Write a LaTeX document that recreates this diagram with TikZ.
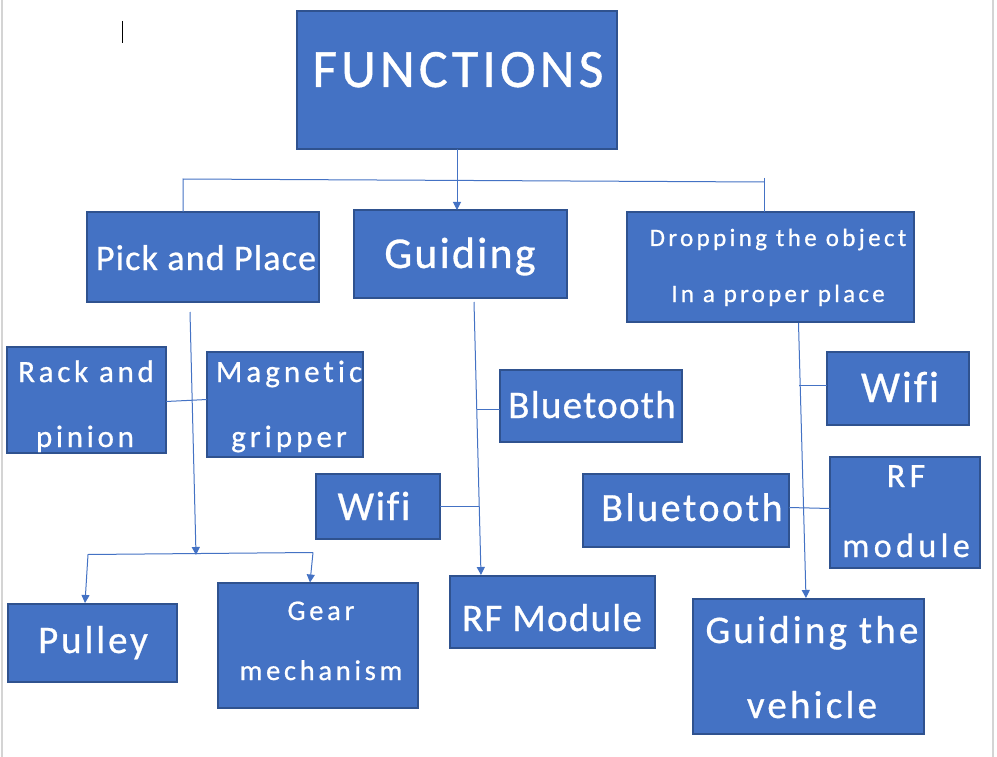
\documentclass[tikz,border=0pt]{standalone}
\usepackage{fontspec}
\setmainfont{Carlito}[Ligatures=NoCommon]
\usetikzlibrary{arrows.meta}
\definecolor{bfill}{HTML}{4472C4}
\definecolor{bline}{HTML}{2F528F}
\definecolor{pageedge}{HTML}{D4D4D4}
\newcommand\tx[2]{\fontsize{#1}{#1}\selectfont\addfontfeatures{LetterSpace=#2,FakeBold=0.7}}
\newcommand\bx[5]{\node[box, minimum width={(#4-#2)*1pt}, minimum height={(#5-#3)*1pt}] (#1) at ({(#2+#4)/2},{(#3+#5)/2}) {};}
\begin{document}
\begin{tikzpicture}[x=1pt,y=-1pt,
  box/.style={draw=bline, fill=bfill, line width=1.5pt, inner sep=0pt, outer sep=0pt},
  lbl/.style={text=white, anchor=base, inner sep=0pt},
  conn/.style={draw=bfill, line width=1pt},
  arr/.style={conn, -{Triangle[length=8pt,width=8pt]}}]
\useasboundingbox (0,0) rectangle (997,757);
\fill[white] (0,0) rectangle (997,757);
% page edges and cursor
\draw[pageedge, line width=2pt] (1.5,0) -- (1.5,757);
\draw[pageedge, line width=2pt] (992.5,0) -- (992.5,757);
\draw[black, line width=1pt] (122,21) -- (122,43);
% boxes
\bx{f}{297}{11}{617}{149}
\bx{pp}{87}{212}{319}{302}
\bx{gd}{354}{210}{567}{298}
\bx{dr}{627}{212}{914}{322}
\bx{rk}{7}{347}{166}{453}
\bx{mg}{207}{352}{363}{457}
\bx{bta}{500}{370}{682}{442}
\bx{wfa}{316}{474}{440}{539}
\bx{rfa}{450}{576}{655}{648}
\bx{pl}{8}{604}{177}{682}
\bx{gr}{218}{583}{418}{708}
\bx{wfb}{827}{352}{969}{425}
\bx{btb}{583}{474}{789}{547}
\bx{rfb}{830}{457}{980}{568}
\bx{gv}{693}{599}{924}{734}
% texts
\node[lbl] (tf) at (458,87) {\tx{54}{7.5}FUNCTIONS};
\node[lbl] (tpp) at (206,270) {\tx{36}{3.3}Pick and Place};
\node[lbl] (tgd) at (460,268) {\tx{44}{5}Guiding};
\node[lbl] (tdra) at (778,246) {\tx{25}{13.5}Dropping the object};
\node[lbl] (tdrb) at (778,302) {\tx{25}{13}In a proper place};
\node[lbl] (trka) at (86,382) {\tx{31}{12}Rack and};
\node[lbl] (trkb) at (85,447) {\tx{31}{12}pinion};
\node[lbl] (tmga) at (289,382) {\tx{31}{13}Magnetic};
\node[lbl] (tmgb) at (289,447) {\tx{31}{13}gripper};
\node[lbl] (tbta) at (592,418) {\tx{39}{3.3}Bluetooth};
\node[lbl] (twfa) at (374,520) {\tx{41}{4}Wifi};
\node[lbl] (trfa) at (552,631) {\tx{39}{3.2}RF Module};
\node[lbl] (tpl) at (93,653) {\tx{39}{7.4}Pulley};
\node[lbl] (tgra) at (321,620) {\tx{28.5}{13}Gear};
\node[lbl] (tgrb) at (321,680) {\tx{28.5}{13}mechanism};
\node[lbl] (twfb) at (900,402) {\tx{44}{4}Wifi};
\node[lbl] (tbtb) at (692,521) {\tx{40}{6.3}Bluetooth};
\node[lbl] (trfba) at (906,487) {\tx{34}{13}RF};
\node[lbl] (trfbb) at (906,557) {\tx{34}{13}module};
\node[lbl] (tgva) at (812,643) {\tx{39}{8.2}Guiding the};
\node[lbl] (tgvb) at (812,718) {\tx{39}{8.2}vehicle};
% junction coordinates
\coordinate (jtl) at (183,179);
\coordinate (jtr) at (764,182);
\coordinate (jtrt) at (764,178);
\coordinate (ppa) at (190,312);
\coordinate (jpm) at (196,555);
\coordinate (jpl) at (88,554.5);
\coordinate (jpr) at (313,552.5);
\coordinate (plin) at (85,603);
\coordinate (grin) at (310,582.5);
\coordinate (gda) at (474,302);
\coordinate (rfin) at (481,575);
\coordinate (gdbt) at (477,409);
\coordinate (gdwf) at (479,506.5);
\coordinate (dra) at (798.5,323);
\coordinate (gvin) at (806,598);
\coordinate (drwf) at (799.3,385.5);
% connectors
\draw[arr] (f.south) -- (f.south |- gd.north);
\draw[conn] (pp.north -| jtl) -- (jtl) -- (jtr);
\draw[conn] (jtrt) -- (jtrt |- dr.north);
\draw[arr] (ppa) -- (jpm);
\draw[conn] (jpl) -- (jpr);
\draw[arr] (jpl) -- (plin);
\draw[arr] (jpr) -- (grin);
\draw[conn] ([yshift=-1.5pt]rk.east) -- ([yshift=5pt]mg.west);
\draw[arr] (gda) -- (rfin);
\draw[conn] ([yshift=-3pt]bta.west) -- (gdbt);
\draw[conn] (wfa.east) -- (gdwf);
\draw[arr] (dra) -- (gvin);
\draw[conn] ([yshift=3pt]wfb.west) -- (drwf);
\draw[conn] ([yshift=3pt]btb.east) -- ([yshift=4pt]rfb.west);
\end{tikzpicture}
\end{document}
